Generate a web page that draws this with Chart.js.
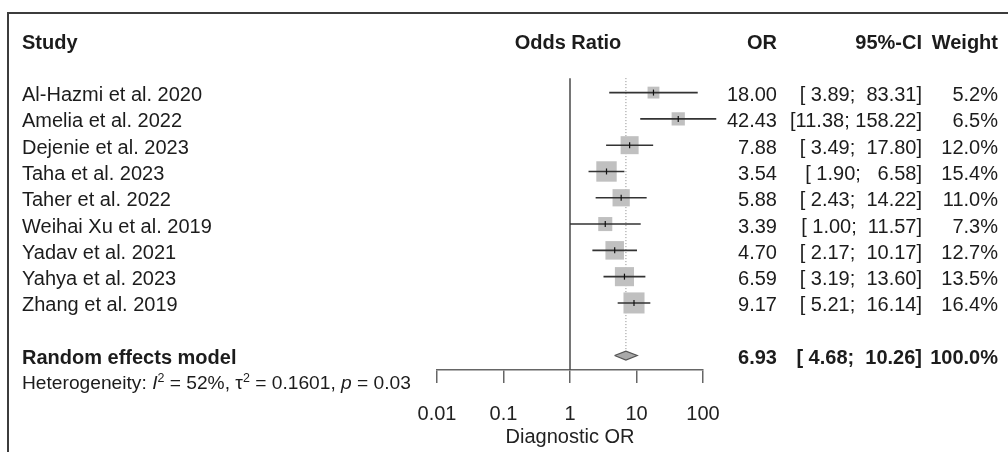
<!DOCTYPE html>
<html>
<head>
<meta charset="utf-8">
<script src="https://cdn.jsdelivr.net/npm/chart.js@4.4.1/dist/chart.umd.min.js"></script>
<style>
  html, body { margin: 0; padding: 0; background: #fff; }
  #wrap {
    position: relative; width: 1008px; height: 452px; overflow: hidden;
    font-family: "Liberation Sans", Arial, sans-serif; color: #1c1c1c;
  }
  #frame {
    position: absolute; left: 7px; top: 12px; right: -10px; bottom: -10px;
    border-left: 2px solid #3c3c3c; border-top: 2px solid #3c3c3c;
  }
  #chartBox { position: absolute; left: 0; top: 0; width: 1008px; height: 452px; }
  .t { position: absolute; font-size: 20px; line-height: 24px; white-space: pre; }
  .b { font-weight: bold; }
  .het { font-size: 19.2px; }
  .het sup { font-size: 0.65em; line-height: 0; vertical-align: 0.55em; }
</style>
</head>
<body>
<div id="wrap">
  <div id="frame"></div>
  <div id="chartBox"><canvas id="forest"></canvas></div>
  <div id="labels"></div>
</div>
<script>
(function () {

  /* data */
  const studies = [
    "Al-Hazmi et al. 2020", "Amelia et al. 2022", "Dejenie et al. 2023",
    "Taha et al. 2023", "Taher et al. 2022", "Weihai Xu et al. 2019",
    "Yadav et al. 2021", "Yahya et al. 2023", "Zhang et al. 2019"
  ];
  const orValues = [18.00, 42.43, 7.88, 3.54, 5.88, 3.39, 4.70, 6.59, 9.17];
  const ciLower  = [3.89, 11.38, 3.49, 1.90, 2.43, 1.00, 2.17, 3.19, 5.21];
  const ciUpper  = [83.31, 158.22, 17.80, 6.58, 14.22, 11.57, 10.17, 13.60, 16.14];
  const weights  = [5.2, 6.5, 12.0, 15.4, 11.0, 7.3, 12.7, 13.5, 16.4];

  const pooledLabel = "Random effects model";
  const pooledOR    = 6.93;
  const pooledLower = 4.68;
  const pooledUpper = 10.26;
  const pooledWeight = 100.0;

  const hetI2   = "52%";
  const hetTau2 = "0.1601";
  const hetP    = "0.03";

  const xTicks      = [0.01, 0.1, 1, 10, 100];
  const xTickLabels = ["0.01", "0.1", "1", "10", "100"];
  const xTitle      = "Diagnostic OR";

  /* layout */
  const FONT = "'Liberation Sans', Arial, sans-serif";
  const Y_MAX = 12.55;        // rows spanned by the plot area
  const FIRST_ROW = 2;        // row 0 = header, row 1 blank
  const POOLED_ROW = 12;
  const HET_ROW = 13;
  const REF_TOP = 1.45;
  const DIAMOND_H = 0.17;
  const BOX_SCALE = 5.2;      // px per sqrt(weight %)
  const TEXT_SHIFT = 1.5;
  const AXIS_HEIGHT = 79;
  const COL_OR = 777, COL_CI = 922, COL_W = 998, COL_STUDY = 22;

  const studyRows = studies.map((s, i) => FIRST_ROW + i);

  const ciData = [];
  studies.forEach((s, i) => {
    ciData.push({ x: ciLower[i], y: studyRows[i] });
    ciData.push({ x: ciUpper[i], y: studyRows[i] });
    ciData.push({ x: ciUpper[i], y: null });
  });

  const pointData = orValues.map((v, i) => ({ x: v, y: studyRows[i] }));

  const diamond = [
    { x: pooledLower, y: POOLED_ROW },
    { x: pooledOR, y: POOLED_ROW - DIAMOND_H },
    { x: pooledUpper, y: POOLED_ROW },
    { x: pooledOR, y: POOLED_ROW + DIAMOND_H },
    { x: pooledLower, y: POOLED_ROW }
  ];

  const ctx = document.getElementById("forest").getContext("2d");

  const chart = new Chart(ctx, {
    type: "scatter",
    data: {
      datasets: [
        {
          // centre mark of each study
          data: pointData,
          pointStyle: "line",
          rotation: 90,
          pointRadius: 3,
          borderColor: "#111",
          borderWidth: 1.2
        },
        {
          // confidence intervals
          data: ciData,
          showLine: true,
          spanGaps: false,
          pointRadius: 0,
          borderColor: "#333",
          borderWidth: 1.6,
          clip: false
        },
        {
          // weight boxes
          data: pointData,
          pointStyle: "rect",
          pointRadius: c => BOX_SCALE * Math.sqrt(weights[c.dataIndex]) / Math.SQRT2,
          backgroundColor: "#c0c0c0",
          borderWidth: 0
        },
        {
          // pooled diamond
          data: diamond,
          showLine: true,
          fill: "shape",
          tension: 0,
          pointRadius: 0,
          borderColor: "#555",
          backgroundColor: "#a9a9a9",
          borderWidth: 1.2
        },
        {
          // dotted line at pooled estimate
          data: [{ x: pooledOR, y: REF_TOP }, { x: pooledOR, y: POOLED_ROW - DIAMOND_H }],
          showLine: true,
          pointRadius: 0,
          borderColor: "#888",
          borderWidth: 1,
          borderDash: [1, 2]
        },
        {
          // line of no effect
          data: [{ x: 1, y: REF_TOP }, { x: 1, y: Y_MAX }],
          showLine: true,
          pointRadius: 0,
          borderColor: "#4a4a4a",
          borderWidth: 1.5
        }
      ]
    },
    options: {
      responsive: true,
      maintainAspectRatio: false,
      animation: false,
      events: [],
      layout: { padding: { left: 437, right: 305, top: 40, bottom: 3 } },
      scales: {
        x: {
          type: "logarithmic",
          position: "bottom",
          min: 0.01,
          max: 100,
          afterBuildTicks(scale) {
            scale.ticks = xTicks.map(v => ({ value: v }));
          },
          afterFit(scale) {
            scale.height = AXIS_HEIGHT;
          },
          grid: {
            drawOnChartArea: false,
            drawTicks: true,
            tickLength: 13,
            color: "#666",
            lineWidth: 1.5
          },
          border: { display: true, color: "#666", width: 1.5 },
          ticks: {
            color: "#222",
            font: { family: FONT, size: 20 },
            padding: 19,
            maxRotation: 0,
            autoSkip: false,
            callback(val, idx) { return xTickLabels[idx]; }
          },
          title: {
            display: true,
            text: xTitle,
            color: "#222",
            font: { family: FONT, size: 20 },
            padding: { top: 1, bottom: 0 }
          }
        },
        y: {
          type: "linear",
          min: 0,
          max: Y_MAX,
          reverse: true,
          display: false
        }
      },
      plugins: {
        legend: { display: false },
        tooltip: { enabled: false }
      }
    }
  });

  /* ================= TEXT COLUMNS ================= */

  const host = document.getElementById("labels");
  const yScale = chart.scales.y;
  const area = chart.chartArea;

  function addText(html, x, row, align, cls) {
    const el = document.createElement("div");
    el.className = "t" + (cls ? " " + cls : "");
    el.innerHTML = html;
    el.style.top = (yScale.getPixelForValue(row) + TEXT_SHIFT - 12) + "px";
    if (align === "right") {
      el.style.right = (1008 - x) + "px";
    } else if (align === "center") {
      el.style.left = x + "px";
      el.style.transform = "translateX(-50%)";
    } else {
      el.style.left = x + "px";
    }
    host.appendChild(el);
  }

  function pad(s, n) {
    while (s.length < n) s = " " + s;
    return s;
  }
  function fmtCI(lo, hi) {
    return "[" + pad(lo.toFixed(2), 5) + "; " + pad(hi.toFixed(2), 6) + "]";
  }

  // header
  addText("Study", COL_STUDY, 0, "left", "b");
  addText("Odds Ratio", (area.left + area.right) / 2 - 2, 0, "center", "b");
  addText("OR", COL_OR, 0, "right", "b");
  addText("95%-CI", COL_CI, 0, "right", "b");
  addText("Weight", COL_W, 0, "right", "b");

  studies.forEach((s, i) => {
    const r = studyRows[i];
    addText(s, COL_STUDY, r, "left");
    addText(orValues[i].toFixed(2), COL_OR, r, "right");
    addText(fmtCI(ciLower[i], ciUpper[i]), COL_CI, r, "right");
    addText(weights[i].toFixed(1) + "%", COL_W, r, "right");
  });

  addText(pooledLabel, COL_STUDY, POOLED_ROW, "left", "b");
  addText(pooledOR.toFixed(2), COL_OR, POOLED_ROW, "right", "b");
  addText(fmtCI(pooledLower, pooledUpper), COL_CI, POOLED_ROW, "right", "b");
  addText(pooledWeight.toFixed(1) + "%", COL_W, POOLED_ROW, "right", "b");

  addText("Heterogeneity: <i>I</i><sup>2</sup> = " + hetI2 +
          ", \u03c4<sup>2</sup> = " + hetTau2 +
          ", <i>p</i> = " + hetP, COL_STUDY, HET_ROW, "left", "het");

})();
</script>
</body>
</html>
